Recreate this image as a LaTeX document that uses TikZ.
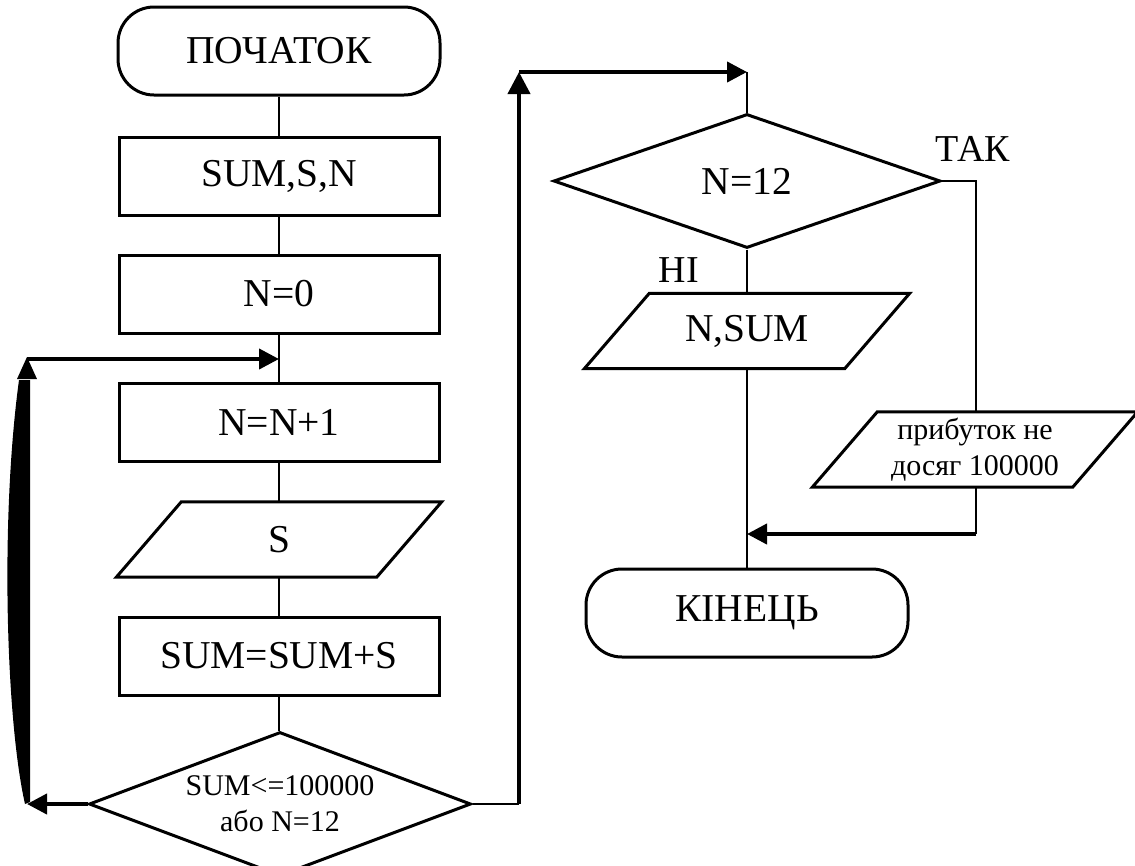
\documentclass[tikz,border=0pt]{standalone}
\usepackage{fontspec}
\setmainfont{Liberation Serif}
\usetikzlibrary{shapes.geometric,arrows.meta,calc}
\newcommand\fsbig{\fontsize{39.5}{44}\selectfont}
\newcommand\fslbl{\fontsize{38}{42}\selectfont}
\newcommand\fssmall{\fontsize{30}{36}\selectfont}
% slanted frame of an input/output block: top edge shifted right, bottom edge shifted left
\newcommand\ioframe[1]{\draw[line width=3pt,line join=miter]
  ($(#1.north west)+(32.5,0)$) -- ($(#1.north east)+(32.5,0)$) --
  ($(#1.south east)+(-32.5,0)$) -- ($(#1.south west)+(-32.5,0)$) -- cycle;}
\begin{document}
\begin{tikzpicture}[x=1pt,y=-1pt,
  box/.style={draw,line width=3pt,rectangle,minimum width=320pt,minimum height=78pt,inner sep=0pt,font=\fsbig},
  term/.style={draw,line width=3pt,rectangle,rounded corners=36pt,minimum width=322pt,minimum height=88pt,inner sep=0pt,font=\fsbig},
  io/.style={rectangle,minimum width=260pt,minimum height=75pt,inner sep=0pt,font=\fsbig},
  decision/.style={draw,line width=3pt,diamond,inner sep=0pt},
  conn/.style={line width=2.5pt},
  flow/.style={line width=4pt,-{Triangle[length=20pt,width=20pt]}},
  lbl/.style={inner sep=0pt,font=\fslbl}]
\useasboundingbox (0,0) rectangle (1135,865);

% main column
\node[term] (start) at (279,51) {ПОЧАТОК};
\node[box] (vars) at (279,176.5) {SUM,S,N};
\node[box] (zero) at (279,294) {N=0};
\node[box] (inc) at (279,422) {N=N+1};
\node[io] (inS) at (279,539.5) {S};
\ioframe{inS}
\node[box] (acc) at (279,656) {SUM=SUM+S};
\node[decision,aspect=2.65,minimum width=382pt,minimum height=144pt,font=\fssmall,align=center] (loop) at (280,804) {SUM<=100000\\або N=12};

% right column
\node[decision,minimum width=387pt,minimum height=134pt,font=\fsbig] (last) at (747,181) {N=12};
\node[io] (out) at (747,331) {N,SUM};
\ioframe{out}
\node[io,font=\fssmall,align=center] (msg) at (975,449.5) {прибуток не\\досяг 100000};
\ioframe{msg}
\node[term] (stop) at (747,613) {КІНЕЦЬ};

\node[lbl] at (973,149) {ТАК};
\node[lbl] at (679,270) {НІ};

% helper points of the connectors
\coordinate (jn) at (279,359);
\coordinate (lt) at (27,359);
\coordinate (lb) at (27,804);
\coordinate (r1) at (519,804);
\coordinate (r2) at (519,72);
\coordinate (r3) at (747,72);
\coordinate (t1) at (976,181);
\coordinate (t2) at (976,534);
\coordinate (mj) at (747,534);

% straight connectors
\draw[conn] (start) -- (vars);
\draw[conn] (vars) -- (zero);
\draw[conn] (zero) -- (inc);
\draw[conn] (inc) -- (inS);
\draw[conn] (inS) -- (acc);
\draw[conn] (acc.south) -- (acc.south |- loop.north);

% loop back to N=N+1
\draw[flow] (loop.west) -- (lb);
\fill (30,380) -- (30,802) -- (25,804) .. controls (6,720) and (0,520) .. (19,380) -- cycle;
\fill (17,379) -- (27,357) -- (37,379) -- cycle;
\draw[flow] (lt) -- (jn);

% exit of the loop
\draw[conn] (loop.east) -- (r1);
\draw[line width=4pt,-{Triangle[length=22pt,width=22pt]}] (r1) -- (r2);
\draw[flow] (r2) -- (r3);
\draw[conn] (r3) -- (last.north);

% branches of N=12
\draw[conn] (last.south) -- (out.north);
\draw[conn] (out.south) -- (stop.north);
\draw[conn] (last.east) -- (t1) -- (msg.north -| t1);
\draw[conn] (msg.south -| t1) -- (t2);
\draw[flow] (t2) -- (mj);
\end{tikzpicture}
\end{document}
